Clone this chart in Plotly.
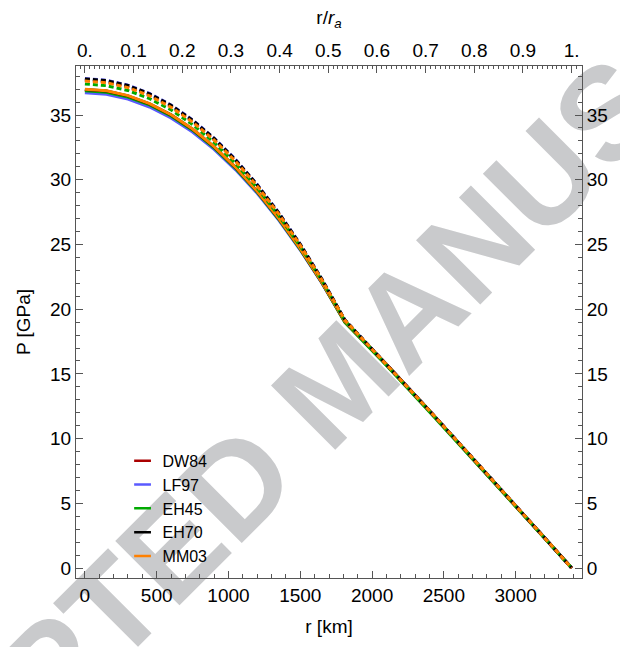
import plotly.graph_objects as go

# ---------------- data ----------------
r_km = [0, 150, 300, 450, 600, 750, 900, 1050, 1200, 1350, 1500, 1650, 1810,
        2100, 2400, 2700, 3000, 3200, 3390]
r_a = 3389.5

models = ["DW84", "LF97", "EH45", "EH70", "MM03"]
colors = ["#aa0000", "#5a5aff", "#00aa00", "#000000", "#ff8000"]

P_solid = {
    "DW84": [36.91, 36.79, 36.42, 35.81, 34.95, 33.85, 32.49, 30.90, 29.06, 26.98, 24.64, 22.07, 19.05, 15.75, 12.15, 8.50, 4.85, 2.35, 0.0],
    "LF97": [36.72, 36.60, 36.23, 35.62, 34.78, 33.69, 32.35, 30.77, 28.95, 26.89, 24.57, 22.02, 19.03, 15.73, 12.14, 8.49, 4.85, 2.35, 0.0],
    "EH45": [36.88, 36.76, 36.39, 35.78, 34.93, 33.83, 32.47, 30.88, 29.04, 26.95, 24.62, 22.06, 18.98, 15.65, 12.05, 8.42, 4.78, 2.30, 0.0],
    "EH70": [36.97, 36.85, 36.48, 35.86, 35.01, 33.90, 32.54, 30.94, 29.10, 27.01, 24.67, 22.09, 19.06, 15.75, 12.15, 8.50, 4.85, 2.35, 0.0],
    "MM03": [36.99, 36.87, 36.50, 35.88, 35.02, 33.92, 32.56, 30.96, 29.11, 27.02, 24.68, 22.09, 19.06, 15.75, 12.15, 8.50, 4.85, 2.35, 0.0],
}
P_dashed = {
    "DW84": [37.69, 37.56, 37.18, 36.55, 35.66, 34.51, 33.11, 31.46, 29.55, 27.39, 24.97, 22.30, 19.16, 15.75, 12.15, 8.50, 4.85, 2.35, 0.0],
    "LF97": [37.82, 37.69, 37.31, 36.67, 35.78, 34.63, 33.22, 31.56, 29.63, 27.46, 25.02, 22.34, 19.18, 15.76, 12.16, 8.51, 4.86, 2.35, 0.0],
    "EH45": [37.40, 37.27, 36.90, 36.27, 35.40, 34.27, 32.88, 31.25, 29.37, 27.23, 24.85, 22.22, 19.12, 15.72, 12.12, 8.47, 4.82, 2.33, 0.0],
    "EH70": [37.79, 37.66, 37.28, 36.64, 35.75, 34.60, 33.19, 31.53, 29.61, 27.44, 25.01, 22.33, 19.18, 15.75, 12.15, 8.50, 4.85, 2.35, 0.0],
    "MM03": [37.63, 37.50, 37.12, 36.49, 35.60, 34.46, 33.06, 31.42, 29.51, 27.36, 24.94, 22.28, 19.16, 15.75, 12.15, 8.50, 4.85, 2.35, 0.0],
}

x_ticks = [0, 500, 1000, 1500, 2000, 2500, 3000]
top_tickvals = [0, 0.1, 0.2, 0.3, 0.4, 0.5, 0.6, 0.7, 0.8, 0.9, 1.0]
top_ticktext = ["0.", "0.1", "0.2", "0.3", "0.4", "0.5", "0.6", "0.7", "0.8", "0.9", "1."]
y_ticks = [0, 5, 10, 15, 20, 25, 30, 35]

x_range = [-62, 3462]
y_range = [-0.77, 38.79]

FONT = "Liberation Sans, Arial, Helvetica, sans-serif"
AX = "#555555"

fig = go.Figure()

for m, c in zip(models, colors):
    fig.add_trace(go.Scatter(x=r_km, y=P_solid[m], mode="lines",
                             line=dict(color=c, width=3), showlegend=False,
                             hoverinfo="skip"))
for m, c in zip(models, colors):
    fig.add_trace(go.Scatter(x=r_km, y=P_dashed[m], mode="lines",
                             line=dict(color=c, width=3, dash="5px,3px"),
                             showlegend=False, hoverinfo="skip"))

# legend entries (short line samples)
for m, c in zip(models, colors):
    fig.add_trace(go.Scatter(x=[None], y=[None], mode="markers", name=m,
                             marker=dict(symbol="line-ew-open", size=12, color=c,
                                         line=dict(color=c, width=2.5))))

# invisible trace to activate top/right axes
fig.add_trace(go.Scatter(x=[None], y=[None], xaxis="x2", yaxis="y2",
                         showlegend=False, hoverinfo="skip"))

common_axis = dict(showline=True, linecolor=AX, linewidth=1, ticks="inside",
                   tickcolor=AX, ticklen=7, showgrid=False, zeroline=False,
                   tickfont=dict(family=FONT, size=19, color="black"))

fig.update_layout(
    width=620, height=647,
    margin=dict(l=76, r=32, t=66, b=69),
    paper_bgcolor="white", plot_bgcolor="rgba(0,0,0,0)",
    font=dict(family=FONT, color="black"),
    xaxis=dict(range=x_range, tickvals=x_ticks, **common_axis,
               minor=dict(dtick=100, ticks="inside", ticklen=4, tickcolor=AX),
               title=dict(text="r [km]", font=dict(size=19, family=FONT), standoff=14)),
    xaxis2=dict(range=[x_range[0] / r_a, x_range[1] / r_a], overlaying="x", side="top",
                tickvals=top_tickvals, ticktext=top_ticktext, **common_axis,
                minor=dict(dtick=0.01, ticks="inside", ticklen=3, tickcolor=AX),
                title=dict(text="r/<i>r<sub>a</sub></i>", font=dict(size=19, family=FONT), standoff=10)),
    yaxis=dict(range=y_range, tickvals=y_ticks, **common_axis,
               minor=dict(dtick=1, ticks="inside", ticklen=4, tickcolor=AX),
               title=dict(text="P [GPa]", font=dict(size=19, family=FONT), standoff=14)),
    yaxis2=dict(range=y_range, overlaying="y", side="right", tickvals=y_ticks,
                **common_axis,
                minor=dict(dtick=1, ticks="inside", ticklen=4, tickcolor=AX)),
    legend=dict(x=0.092, y=0.262, xanchor="left", yanchor="top",
                bgcolor="rgba(0,0,0,0)", borderwidth=0,
                font=dict(family=FONT, size=16, color="black"),
                itemwidth=30, tracegroupgap=0),
    shapes=[dict(type="rect", xref="paper", yref="paper", x0=0.40, x1=0.60,
                 y0=0.30, y1=0.50, layer="below", line=dict(width=0),
                 fillcolor="rgba(0,0,0,0)",
                 label=dict(text="<b>ACCEPTED MANUSCRIPT</b>", textangle=-45,
                            textposition="middle center",
                            font=dict(family=FONT, size=132, color="#c9cacc")))],
)

fig.write_html("out.html")
